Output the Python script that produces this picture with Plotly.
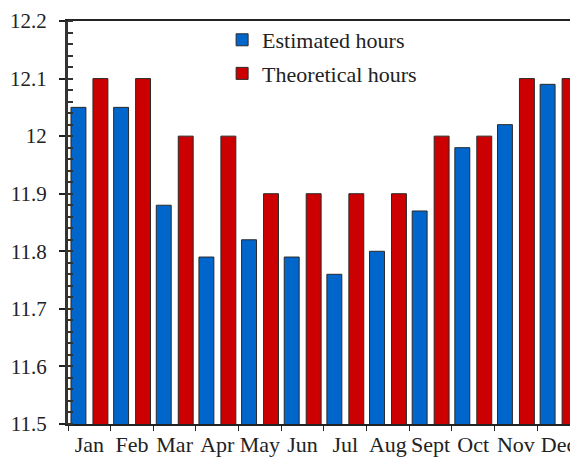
import plotly.graph_objects as go

months = ["Jan", "Feb", "Mar", "Apr", "May", "Jun", "Jul", "Aug", "Sept", "Oct", "Nov", "Dec"]
estimated = [12.05, 12.05, 11.88, 11.79, 11.82, 11.79, 11.76, 11.80, 11.87, 11.98, 12.02, 12.09]
theoretical = [12.1, 12.1, 12.0, 12.0, 11.9, 11.9, 11.9, 11.9, 12.0, 12.0, 12.1, 12.1]

blue = "#0066CC"
red = "#CC0000"
edge = "#2a2a2a"
font = "Liberation Serif, Times New Roman, DejaVu Serif, serif"

fig = go.Figure()
fig.add_trace(go.Bar(
    x=months, y=estimated, name="Estimated hours", legendgroup="a",
    marker=dict(color=blue, line=dict(color=edge, width=1)),
    width=0.35, offset=-0.43,
))
fig.add_trace(go.Bar(
    x=months, y=theoretical, name="Theoretical hours", legendgroup="b",
    marker=dict(color=red, line=dict(color=edge, width=1)),
    width=0.35, offset=0.085,
))

fig.update_layout(
    width=570, height=461,
    margin=dict(l=68, r=0, t=21, b=37, autoexpand=False),
    paper_bgcolor="white", plot_bgcolor="white",
    barmode="overlay",
    font=dict(family=font, size=22, color="#222"),
    showlegend=True,
    legend=dict(
        x=0.307, y=1.005, xanchor="left", yanchor="top",
        bgcolor="rgba(0,0,0,0)", font=dict(family=font, size=22, color="#222"),
        tracegroupgap=2, itemwidth=30,
    ),
    xaxis=dict(
        type="category", range=[-0.5, 11.27], automargin=False, tickangle=0,
        tickson="boundaries", ticks="outside", ticklen=5, tickcolor="#222",
        showline=True, linecolor="#222", linewidth=1.5, mirror=True,
        showgrid=False, zeroline=False,
        tickfont=dict(family=font, size=22, color="#222"),
    ),
    yaxis=dict(
        range=[11.5, 12.2], dtick=0.1, tick0=11.5, automargin=False,
        ticks="outside", ticklen=6, tickcolor="#222", tickwidth=1.5,
        ticklabelstandoff=8,
        minor=dict(dtick=0.02, ticks="inside", ticklen=5, tickcolor="#333", showgrid=False),
        showline=True, linecolor="#333", linewidth=3,
        showgrid=False, zeroline=False,
        tickfont=dict(family=font, size=21, color="#222"),
    ),
)

fig.write_html(
    "out.html",
    config={"displayModeBar": False},
    post_script="document.body.style.margin='0';document.body.style.overflow='hidden';",
)
